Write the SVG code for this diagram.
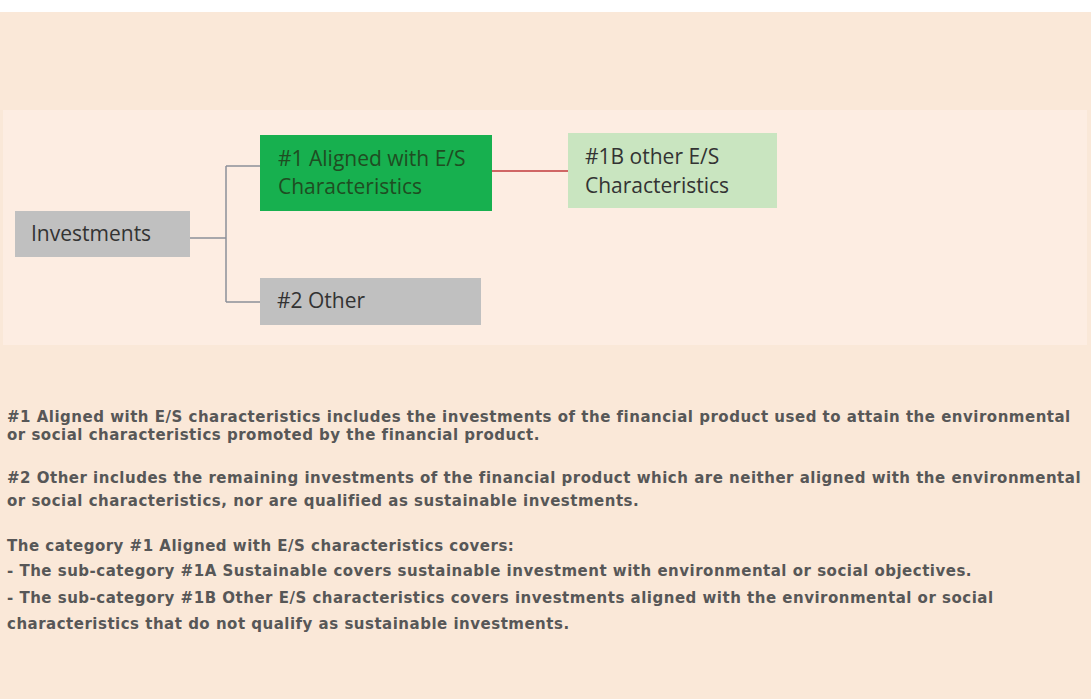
<svg xmlns="http://www.w3.org/2000/svg" width="1091" height="699" viewBox="0 0 1091 699">
<style>
.box-txt{font-family:"Open Sans","Liberation Sans",sans-serif;font-size:21px;fill:#333333}
.g-txt{fill:#1f4d22}
.body{font-family:"DejaVu Sans",Verdana,sans-serif;font-weight:bold;font-size:15px;letter-spacing:0.5px;fill:#575757}
.conn{fill:none;stroke:#8c9099;stroke-width:1.5}
.red{fill:none;stroke:#c0393b;stroke-width:1.5}
</style>
<rect x="0" y="0" width="1091" height="699" fill="#ffffff"/>
<rect x="0" y="12" width="1091" height="687" fill="#fae8d8"/>
<rect x="3" y="110" width="1084" height="235" fill="#fdede2"/>
<g id="connectors">
<path class="conn" d="M190 238 H226 M226 166 V302 M226 166 H260 M226 302 H260"/>
<path class="red" d="M492 171 H568"/>
</g>
<g id="investments">
<rect x="15" y="211" width="175" height="46" fill="#c0c0c0"/>
<text class="box-txt" x="31" y="241">Investments</text>
</g>
<g id="aligned">
<rect x="260" y="135" width="232" height="76" fill="#17b04f"/>
<text class="box-txt g-txt" x="278" y="166">#1 Aligned with E/S</text>
<text class="box-txt g-txt" x="278" y="194">Characteristics</text>
</g>
<g id="other-es">
<rect x="568" y="133" width="209" height="75" fill="#c9e5c0"/>
<text class="box-txt" x="585" y="164">#1B other E/S</text>
<text class="box-txt" x="585" y="193">Characteristics</text>
</g>
<g id="other">
<rect x="260" y="278" width="221" height="47" fill="#c0c0c0"/>
<text class="box-txt" x="277" y="308">#2 Other</text>
</g>
<g id="notes">
<text class="body" x="7" y="422">#1 Aligned with E/S characteristics includes the investments of the financial product used to attain the environmental</text>
<text class="body" x="7" y="440">or social characteristics promoted by the financial product.</text>
<text class="body" x="7" y="483">#2 Other includes the remaining investments of the financial product which are neither aligned with the environmental</text>
<text class="body" x="7" y="506">or social characteristics, nor are qualified as sustainable investments.</text>
<text class="body" x="7" y="551">The category #1 Aligned with E/S characteristics covers:</text>
<text class="body" x="7" y="576">- The sub-category #1A Sustainable covers sustainable investment with environmental or social objectives.</text>
<text class="body" x="7" y="603">- The sub-category #1B Other E/S characteristics covers investments aligned with the environmental or social</text>
<text class="body" x="7" y="629">characteristics that do not qualify as sustainable investments.</text>
</g>
</svg>
